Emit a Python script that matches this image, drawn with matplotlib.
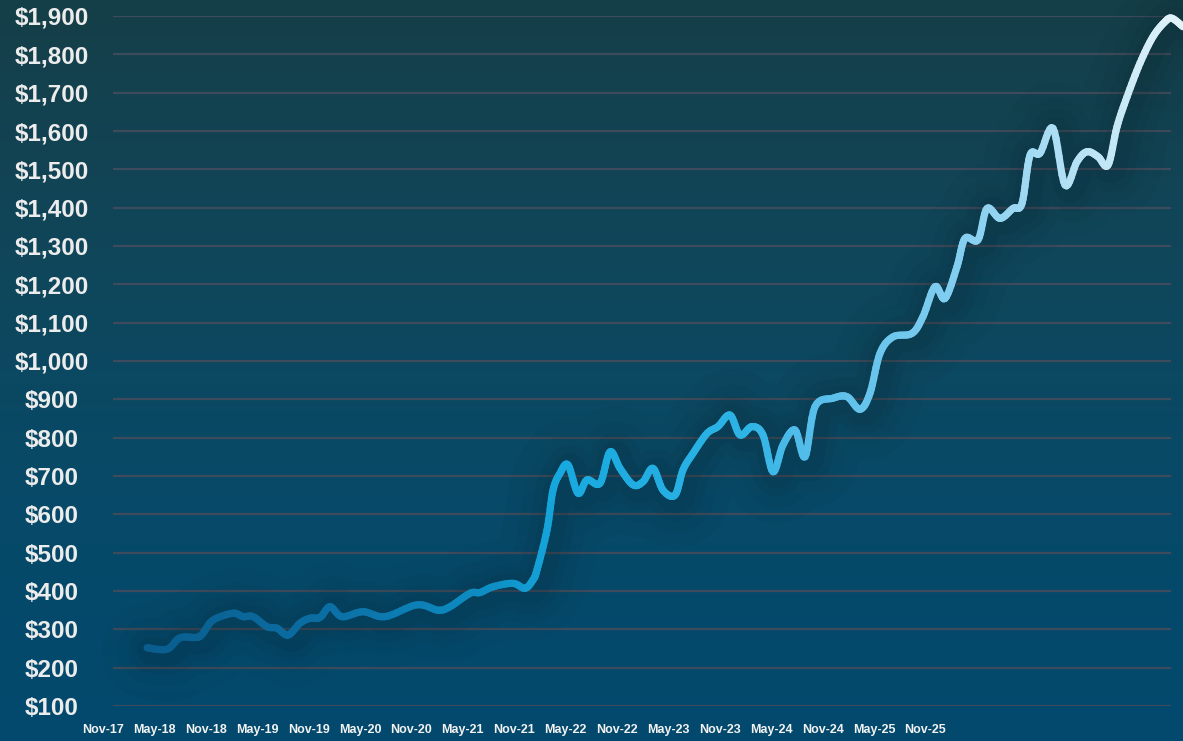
#!/usr/bin/env python

"""Price history line chart on a dark gradient background"""

import numpy as np
import matplotlib
matplotlib.use("Agg")
import matplotlib.pyplot as plt
from matplotlib.collections import LineCollection
from matplotlib.colors import LinearSegmentedColormap

plt.rcParams["font.family"] = ["Liberation Sans", "DejaVu Sans"]

# position along the time axis (arbitrary period units) and price in $
period = [
    3.4, 5.4, 6.7, 8.4, 9.0, 10.0, 12.0, 13.0, 14.0, 15.4, 16.4, 17.5,
    18.7, 19.7, 20.7, 21.7, 22.9, 25.0, 27.2, 30.4, 32.5, 33.7, 35.7, 36.7,
    38.0, 40.0, 41.2, 42.0, 42.4, 43.4, 44.0, 44.7, 45.5, 46.5, 47.4,
    48.7, 49.7, 50.7, 52.0, 53.0, 54.0, 55.0, 56.2, 57.0, 58.0, 59.4,
    60.5, 61.7, 62.7, 63.9, 65.0, 66.0, 67.0, 68.2, 69.2, 70.2, 72.0,
    73.4, 74.7, 75.7, 76.7, 78.0, 79.9, 81.0, 82.2, 83.2, 84.4, 85.2,
    86.5, 87.4, 88.7, 90.0, 90.9, 91.7, 92.7, 94.0, 95.2, 96.4, 97.4,
    98.5, 99.5, 100.4, 101.4, 102.7, 104.0, 105.2, 105.9, 107.0,
]
price = [
    252, 248, 278, 279, 290, 324, 342, 333, 333, 307, 303, 285,
    316, 329, 331, 359, 333, 346, 333, 364, 350, 359, 394, 396,
    411, 420, 407, 429, 455, 559, 663, 707, 729, 655, 690,
    681, 763, 720, 677, 685, 720, 663, 650, 716, 759, 811,
    829, 859, 807, 829, 807, 711, 781, 820, 750, 881, 903,
    907, 874, 916, 1020, 1063, 1072, 1116, 1194, 1163, 1246, 1320,
    1316, 1398, 1372, 1398, 1411, 1537, 1542, 1607, 1459, 1520, 1546,
    1533, 1511, 1611, 1689, 1777, 1846, 1885, 1894, 1872,
]

y_ticks = list(range(100, 2000, 100))
x_labels = [
    "Nov-17", "May-18", "Nov-18", "May-19", "Nov-19", "May-20", "Nov-20",
    "May-21", "Nov-21", "May-22", "Nov-22", "May-23", "Nov-23", "May-24",
    "Nov-24", "May-25", "Nov-25",
]


def smooth_path(xs, ys, n=8):
    """Catmull-Rom path through the points, only for a rounded look"""
    p = np.column_stack([xs, ys]).astype(float)
    p = np.vstack([p[0], p, p[-1]])
    out = []
    for i in range(1, len(p) - 2):
        p0, p1, p2, p3 = p[i - 1], p[i], p[i + 1], p[i + 2]
        for t in np.linspace(0, 1, n, endpoint=False):
            t2, t3 = t * t, t * t * t
            out.append(0.5 * ((2 * p1) + (-p0 + p2) * t
                              + (2 * p0 - 5 * p1 + 4 * p2 - p3) * t2
                              + (-p0 + 3 * p1 - 3 * p2 + p3) * t3))
    out.append(p[-2])
    out = np.array(out)
    return out[:, 0], out[:, 1]


W, H = 1183, 741
fig = plt.figure(figsize=(W / 100, H / 100), dpi=100)

# background gradient
bg = fig.add_axes([0, 0, 1, 1])
bg.set_axis_off()
bg_cmap = LinearSegmentedColormap.from_list(
    "bg", ["#02496e", "#074a68", "#10465a", "#153f48"]
)
grad = np.linspace(0, 1, 256).reshape(-1, 1)
bg.imshow(grad, aspect="auto", cmap=bg_cmap, origin="lower", extent=[0, 1, 0, 1])
bg.set_xlim(0, 1)
bg.set_ylim(0, 1)

ax = fig.add_axes([113 / W, (H - 706) / H, (W - 113) / W, 690 / H])
ax.patch.set_alpha(0)
ax.set_xlim(0, 107)
ax.set_ylim(100, 1900)
for s in ax.spines.values():
    s.set_visible(False)

# gridlines
for v in y_ticks:
    ax.axhline(v, xmin=0, xmax=(1170 - 113) / (W - 113), color="#3e4b5d",
               lw=1.6, zorder=1)

x, y = smooth_path(period, price)

# dark halo behind the line
for lw, a in [(70, 0.035), (48, 0.045), (32, 0.06), (20, 0.07)]:
    ax.plot(x + 0.4, y - 8, color="#0b1c24", lw=lw, alpha=a,
            solid_capstyle="round", solid_joinstyle="round", zorder=2,
            clip_on=False)

line_cmap = LinearSegmentedColormap.from_list(
    "line",
    [(0.0, "#0a5a8a"), (0.2, "#0b6ea3"), (0.36, "#0e90c6"), (0.42, "#17a9df"),
     (0.6, "#2fb4e5"), (0.64, "#50bce9"), (0.8, "#86cff0"), (1.0, "#e2f3f9")],
)
pts = np.column_stack([x, y]).reshape(-1, 1, 2)
segs = np.concatenate([pts[:-1], pts[1:]], axis=1)
lc = LineCollection(segs, cmap=line_cmap, norm=plt.Normalize(0, 107),
                    linewidths=5.2, capstyle="round", joinstyle="round",
                    zorder=3, clip_on=False)
lc.set_array((x[:-1] + x[1:]) / 2)
ax.add_collection(lc)

ax.set_xticks([])
ax.set_yticks(y_ticks)
ax.set_yticklabels([f"${v:,}" for v in y_ticks], fontsize=17.5,
                   fontweight="bold", color="#ececec")
ax.tick_params(axis="y", length=0, pad=44)
for lab in ax.get_yticklabels():
    lab.set_ha("center")

for i, lab in enumerate(x_labels):
    fig.text((103 + 51.4 * i) / W, 11 / H, lab, ha="center", va="center",
             fontsize=9, fontweight="bold", color="#f2f2f2")

fig.savefig("out.png", dpi=100)
